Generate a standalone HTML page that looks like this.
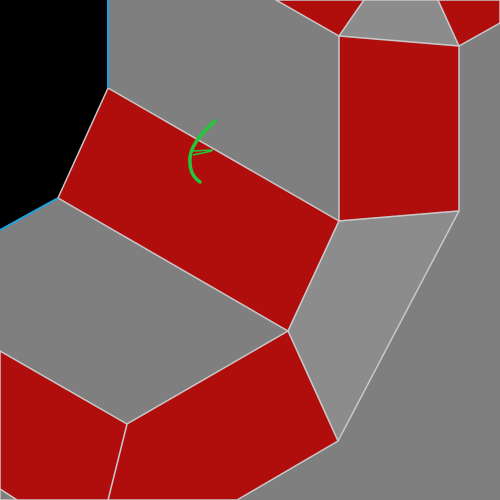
<!DOCTYPE html>
<html><head><meta charset="utf-8"><style>html,body{margin:0;padding:0;background:#7f7f7f}svg{display:block}</style></head>
<body>
<svg width="500" height="500" viewBox="0 0 500 500">
<rect x="0" y="0" width="500" height="500" fill="#7f7f7f"/>
<g stroke="#c8c8c8" stroke-width="1.5" stroke-linejoin="round">
<polygon points="-5,-5 108,-5 108,88 58,198 -5,233" fill="#000" stroke="none"/>
<polygon points="276,0 364,0 339,36" fill="#b00d0d"/>
<polygon points="364,0 438,0 459,46 339,36" fill="#8c8c8c"/>
<polygon points="438,0 500,0 500,23 459,46" fill="#b00d0d"/>
<polygon points="339,36 459,46 459,211 339,221" fill="#b00d0d"/>
<polygon points="108,88 339,221 288,331 58,198" fill="#b00d0d"/>
<polygon points="339,221 459,211 338,441 288,331" fill="#8c8c8c"/>
<polygon points="288,331 338,441 237,500 108,500 127,424" fill="#b00d0d"/>
<polygon points="0,351 127,424 108,500 17,500 0,489" fill="#b00d0d"/>
<polygon points="0,489 17,500 0,500" fill="#7f7f7f"/>
</g>
<rect x="0" y="0" width="500" height="500" fill="none" stroke="#7f7f7f" stroke-width="0"/>
<line x1="108" y1="0" x2="108" y2="88" stroke="#1ea0e0" stroke-width="2"/>
<line x1="58" y1="198" x2="0" y2="230" stroke="#1ea0e0" stroke-width="2"/>
<g fill="none" stroke="#22c83a">
<path d="M215,121 Q188,145 190,162 Q190,175 200,182" stroke-width="3.5" stroke-linecap="round"/>
<line x1="193" y1="151" x2="213" y2="150" stroke-width="1.5"/>
<line x1="193" y1="155" x2="212" y2="151" stroke-width="1.5"/>
</g>
</svg>
</body></html>
